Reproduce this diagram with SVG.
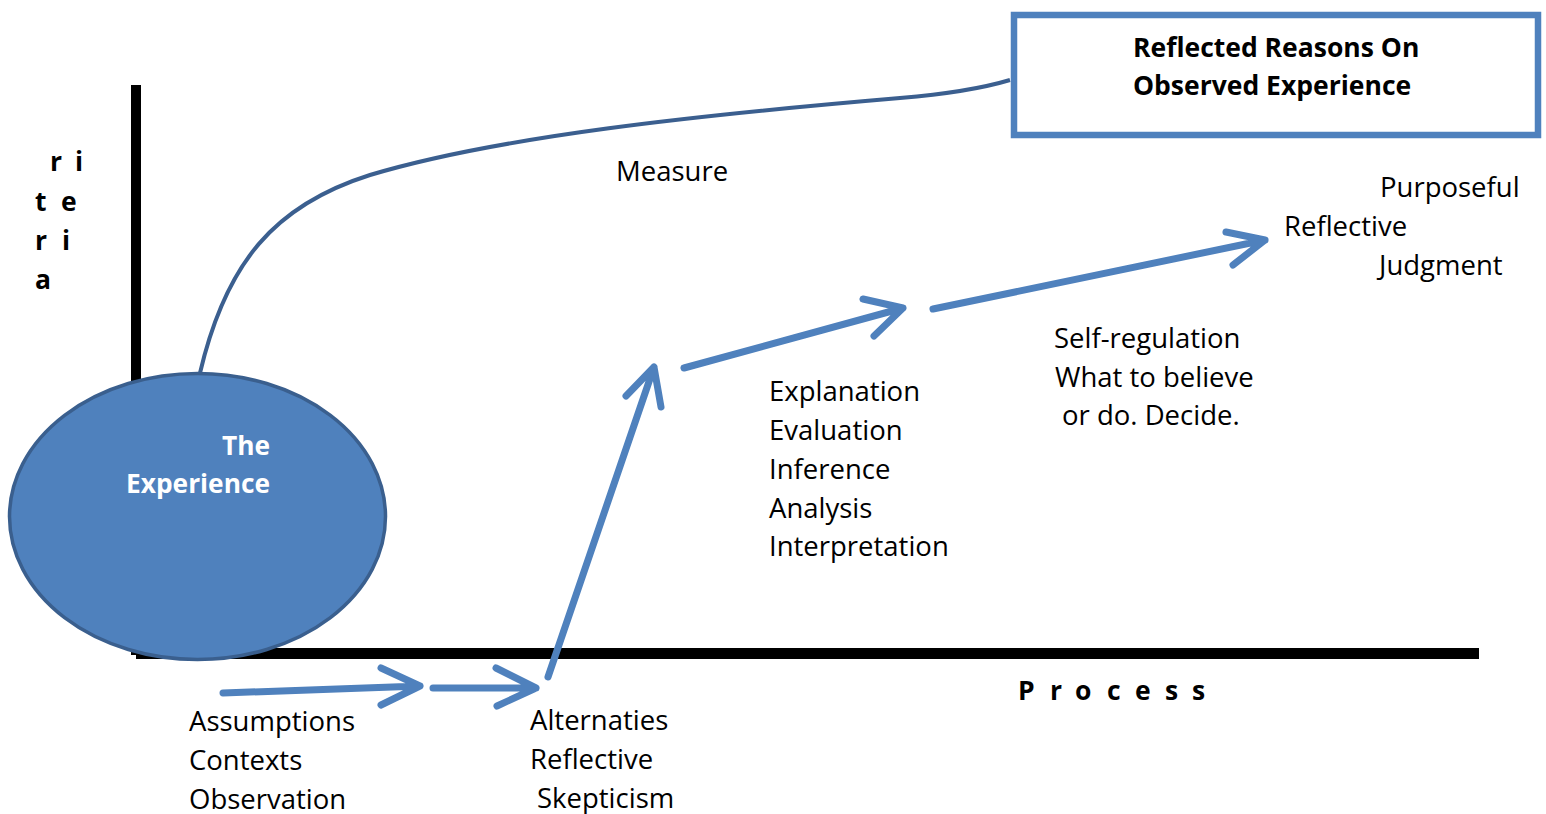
<svg xmlns="http://www.w3.org/2000/svg" width="1546" height="814" viewBox="0 0 1546 814">
<style>
.t{font-family:"Open Sans","Liberation Sans",sans-serif;font-size:27.5px;fill:#000}
.b{font-family:"Open Sans","Liberation Sans",sans-serif;font-size:26.5px;font-weight:700;fill:#000}
.w{font-family:"Open Sans","Liberation Sans",sans-serif;font-size:26.3px;font-weight:700;fill:#fff}
.arr{fill:none;stroke:#4F81BD;stroke-width:7;stroke-linecap:round;stroke-linejoin:round}
</style>
<rect width="1546" height="814" fill="#fff"/>
<g id="axes">
<rect x="131" y="85" width="10" height="570" fill="#000"/>
<rect x="136" y="648" width="1343" height="11" fill="#000"/>
</g>
<g id="criteria-label" class="b">
<text x="50 63 75" y="171">r i</text>
<text x="35 49 61" y="211">t e</text>
<text x="35 49 62" y="250">r i</text>
<text x="35" y="289">a</text>
</g>
<g id="process-label" class="b">
<text x="1018 1050 1075 1107 1135 1165 1192" y="700">Process</text>
</g>
<g id="connectors">
<path d="M200,373 C226,262 275,205 370,175 C500,136 700,115 900,98 C960,93 990,86 1010,80" fill="none" stroke="#3B5F8F" stroke-width="4"/>
<g class="arr">
<path d="M223,693 L420,686 M381,668 L420,686 L381,705"/>
<path d="M433,688 L536,688 M496,668 L536,688 L497,706"/>
<path d="M548,677 L654,367 M626,396 L654,367 L661,407"/>
<path d="M684,368 L903,308 M863,299 L903,308 L874,336"/>
<path d="M933,309 L1265,240 M1226,232 L1265,240 L1233,265"/>
</g>
</g>
<g id="experience">
<ellipse cx="197.5" cy="516.5" rx="188" ry="143" fill="#4F81BD" stroke="#3A5F8E" stroke-width="3.5"/>
<text class="w" x="270" y="455" text-anchor="end">The</text>
<text class="w" x="270" y="493" text-anchor="end">Experience</text>
</g>
<g id="reflected-reasons">
<rect x="1014" y="15" width="524" height="120" fill="#fff" stroke="#4F81BD" stroke-width="6.5"/>
<text class="b" x="1133" y="57">Reflected Reasons On</text>
<text class="b" x="1133" y="95">Observed Experience</text>
</g>
<g id="measure"><text class="t" x="616" y="181">Measure</text></g>
<g id="judgment" class="t">
<text x="1380" y="197">Purposeful</text>
<text x="1284" y="236">Reflective</text>
<text x="1379" y="275">Judgment</text>
</g>
<g id="self-regulation" class="t">
<text x="1054" y="348">Self-regulation</text>
<text x="1055" y="387">What to believe</text>
<text x="1062" y="425">or do. Decide.</text>
</g>
<g id="explanation" class="t">
<text x="769" y="401">Explanation</text>
<text x="769" y="440">Evaluation</text>
<text x="769" y="479">Inference</text>
<text x="769" y="518">Analysis</text>
<text x="769" y="556">Interpretation</text>
</g>
<g id="assumptions" class="t">
<text x="189" y="731">Assumptions</text>
<text x="189" y="770">Contexts</text>
<text x="189" y="809">Observation</text>
</g>
<g id="alternaties" class="t">
<text x="530" y="730">Alternaties</text>
<text x="530" y="769">Reflective</text>
<text x="537" y="808">Skepticism</text>
</g>
</svg>
